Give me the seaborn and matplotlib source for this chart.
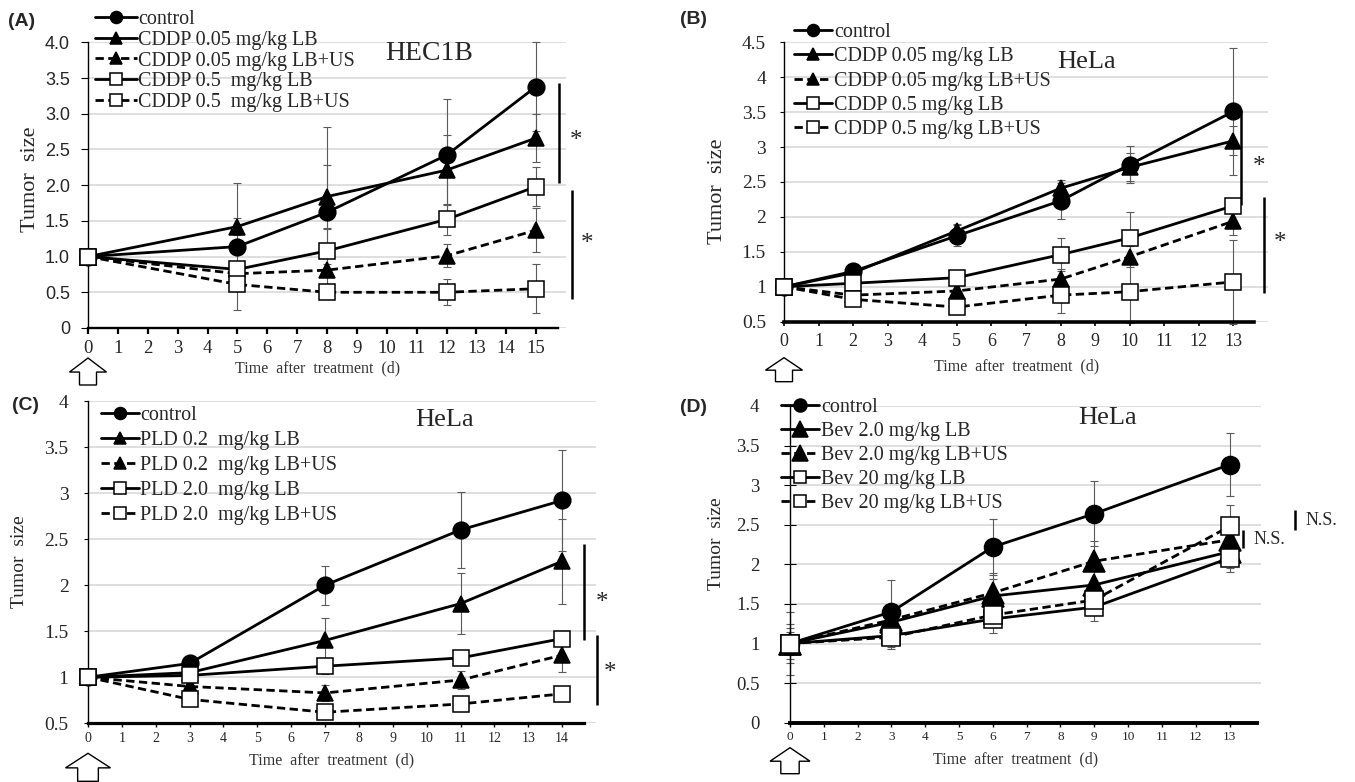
#!/usr/bin/env python3
"""
Relative tumor size after liposomal bubble (LB) / ultrasound (US) treatment, panels A-D.
"""

import matplotlib

matplotlib.use("Agg")
import matplotlib.pyplot as plt
import matplotlib.transforms as mtransforms
from matplotlib.patches import Polygon
import seaborn as sns

W, H = 1355, 782
SERIF = ["Liberation Serif", "DejaVu Serif"]
SANS = ["Liberation Sans", "DejaVu Sans"]

# ---- (A) HEC1B, CDDP ----
a_days = [0, 5, 8, 12, 15]
a_labels = ["control", "CDDP 0.05 mg/kg LB", "CDDP 0.05 mg/kg LB+US",
            "CDDP 0.5  mg/kg LB", "CDDP 0.5  mg/kg LB+US"]
a_control = [1.0, 1.14, 1.62, 2.42, 3.38]
a_control_err = [0.05, 0.89, 1.19, 0.79, 0.62]
a_low_lb = [1.0, 1.42, 1.84, 2.21, 2.66]
a_low_lb_err = [0.05, 0.12, 0.44, 0.49, 0.33]
a_low_us = [1.0, 0.76, 0.81, 1.01, 1.37]
a_low_us_err = [0.05, 0.06, 0.08, 0.16, 0.31]
a_high_lb = [1.0, 0.82, 1.08, 1.52, 1.98]
a_high_lb_err = [0.05, 0.08, 0.30, 0.22, 0.27]
a_high_us = [1.0, 0.61, 0.50, 0.50, 0.55]
a_high_us_err = [0.05, 0.04, 0.06, 0.18, 0.34]

# ---- (B) HeLa, CDDP ----
b_days = [0, 2, 5, 8, 10, 13]
b_labels = ["control", "CDDP 0.05 mg/kg LB", "CDDP 0.05 mg/kg LB+US",
            "CDDP 0.5 mg/kg LB", "CDDP 0.5 mg/kg LB+US"]
b_control = [1.0, 1.22, 1.73, 2.23, 2.75, 3.51]
b_control_err = [0.05, 0.06, 0.15, 0.26, 0.26, 0.91]
b_low_lb = [1.0, 1.20, 1.80, 2.41, 2.71, 3.09]
b_low_lb_err = [0.05, 0.05, 0.10, 0.12, 0.20, 0.21]
b_low_us = [1.0, 0.88, 0.94, 1.11, 1.43, 1.94]
b_low_us_err = [0.05, 0.12, 0.10, 0.15, 0.15, 0.20]
b_high_lb = [1.0, 1.05, 1.13, 1.46, 1.70, 2.16]
b_high_lb_err = [0.08, 0.08, 0.10, 0.24, 0.37, 0.10]
b_high_us = [1.0, 0.82, 0.71, 0.88, 0.93, 1.07]
b_high_us_err = [0.06, 0.10, 0.10, 0.25, 0.45, 0.60]

# ---- (C) HeLa, PLD ----
c_days = [0, 3, 7, 11, 14]
c_labels = ["control", "PLD 0.2  mg/kg LB", "PLD 0.2  mg/kg LB+US",
            "PLD 2.0  mg/kg LB", "PLD 2.0  mg/kg LB+US"]
c_control = [1.0, 1.15, 2.00, 2.60, 2.92]
c_control_err = [0.04, 0.04, 0.21, 0.41, 0.55]
c_low_lb = [1.0, 1.05, 1.40, 1.80, 2.26]
c_low_lb_err = [0.04, 0.04, 0.24, 0.33, 0.46]
c_low_us = [1.0, 0.90, 0.83, 0.97, 1.24]
c_low_us_err = [0.04, 0.04, 0.09, 0.10, 0.18]
c_high_lb = [1.0, 1.02, 1.12, 1.21, 1.42]
c_high_lb_err = [0.03, 0.03, 0.08, 0.08, 0.07]
c_high_us = [1.0, 0.76, 0.62, 0.71, 0.82]
c_high_us_err = [0.03, 0.03, 0.02, 0.03, 0.07]

# ---- (D) HeLa, Bevacizumab ----
d_days = [0, 3, 6, 9, 13]
d_labels = ["control", "Bev 2.0 mg/kg LB", "Bev 2.0 mg/kg LB+US",
            "Bev 20 mg/kg LB", "Bev 20 mg/kg LB+US"]
d_control = [1.0, 1.40, 2.22, 2.64, 3.26]
d_control_err = [0.40, 0.40, 0.35, 0.41, 0.40]
d_low_lb = [1.0, 1.27, 1.60, 1.74, 2.16]
d_low_lb_err = [0.25, 0.15, 0.22, 0.20, 0.20]
d_low_us = [1.0, 1.30, 1.64, 2.04, 2.31]
d_low_us_err = [0.20, 0.15, 0.25, 0.26, 0.20]
d_high_lb = [1.0, 1.10, 1.31, 1.46, 2.08]
d_high_lb_err = [0.15, 0.17, 0.18, 0.18, 0.18]
d_high_us = [1.0, 1.08, 1.36, 1.55, 2.48]
d_high_us_err = [0.10, 0.12, 0.15, 0.15, 0.27]

DASH = (0, (3, 1.6))
STYLES = [
    ("o", "-", "black"),
    ("^", "-", "black"),
    ("^", DASH, "black"),
    ("s", "-", "white"),
    ("s", DASH, "white"),
]


def px_to_fig(x, y):
    return x / W, 1 - y / H


def place_axes(ax, left, top, right, bottom):
    ax.set_position([left / W, 1 - bottom / H, (right - left) / W, (bottom - top) / H])


def draw_start_arrow(fig, ax, gap, width, height):
    x0, y0 = ax.transData.transform((0, ax.get_ylim()[0]))
    top = y0 - gap
    head = height * 0.52
    hw, sw = width / 2, width * 0.23
    verts = [
        (x0, top), (x0 + hw, top - head), (x0 + sw, top - head),
        (x0 + sw, top - height), (x0 - sw, top - height),
        (x0 - sw, top - head), (x0 - hw, top - head),
    ]
    fig.add_artist(Polygon(verts, closed=True, fill=False, edgecolor="black",
                           linewidth=1.0, transform=mtransforms.IdentityTransform()))


def draw_panel(fig, ax, days, means, errs, labels, cfg):
    place_axes(ax, *cfg["box"])
    ax.set_xlim(*cfg["xlim"])
    ax.set_ylim(*cfg["ylim"])
    ax.set_axisbelow(True)
    ax.yaxis.grid(True, color="#d6d6d6", linewidth=1.1)
    ax.xaxis.grid(False)

    ms_circle, ms_tri, ms_sq = cfg["ms"]
    for values, err, label, (marker, ls, face) in zip(means, errs, labels, STYLES):
        ms = {"o": ms_circle, "^": ms_tri, "s": ms_sq}[marker]
        ax.errorbar(days, values, yerr=err, fmt="none", ecolor="#5a5a5a",
                    elinewidth=0.8, capsize=2.6, capthick=0.8, zorder=2, clip_on=False)
        sns.lineplot(x=days, y=values, ax=ax, color="black", linewidth=cfg["lw"],
                     linestyle=ls, marker=marker, markersize=ms,
                     markerfacecolor=face, markeredgecolor="black",
                     markeredgewidth=1.1, label=label, zorder=3, clip_on=False,
                     errorbar=None)

    # axes styling
    for side in ("top", "right"):
        ax.spines[side].set_visible(False)
    ax.spines["left"].set_color("black")
    ax.spines["left"].set_linewidth(1.0)
    ax.spines["bottom"].set_color("black")
    ax.spines["bottom"].set_linewidth(cfg["bottom_lw"])
    ax.spines["bottom"].set_bounds(cfg["xlim"][0], cfg["axis_end"])

    ax.set_xticks(range(0, cfg["xmax_tick"] + 1),
                  labels=[str(d) for d in range(0, cfg["xmax_tick"] + 1)],
                  fontsize=cfg["xtick_size"], fontfamily=SERIF)
    ax.set_yticks(cfg["yticks"], labels=cfg["yticklabels"],
                  fontsize=cfg["ytick_size"], fontfamily=cfg["ytick_family"])
    ax.tick_params(axis="x", direction="out", length=cfg["xtick_len"],
                   width=cfg["xtick_w"], color="black", pad=cfg["xtick_pad"], bottom=True)
    ax.tick_params(axis="y", direction=cfg["ytick_dir"], length=cfg["ytick_len"],
                   width=0.8, color="black", pad=cfg["ytick_pad"], left=True)

    ax.set_xlabel("Time  after  treatment  (d)", fontsize=11.5, color="#333333")
    ax.xaxis.set_label_coords(*cfg["xlabel_pos"])
    ax.xaxis.label.set_va("center")
    ax.set_ylabel("Tumor  size", fontsize=cfg["ylabel_size"])
    ax.yaxis.set_label_coords(*cfg["ylabel_pos"])
    ax.yaxis.label.set_va("center")

    handles, leg_labels = ax.get_legend_handles_labels()
    leg = ax.legend(handles, leg_labels, loc="upper left",
                    bbox_to_anchor=px_to_fig(*cfg["legend_xy"]),
                    bbox_transform=fig.transFigure, frameon=False,
                    borderpad=0, borderaxespad=0, handlelength=cfg["handlelength"],
                    handletextpad=0.08, labelspacing=cfg["labelspacing"],
                    markerscale=0.72, prop={"family": SERIF, "size": 14.5})
    leg.set_zorder(5)

    # significance marks
    for x, y0, y1 in cfg["bars"]:
        ax.plot([x, x], [y0, y1], color="black", linewidth=1.8, clip_on=False,
                solid_capstyle="butt")
    for x, y, text, size in cfg["notes"]:
        ax.text(x, y, text, ha="left" if text != "*" else "center", va="center",
                fontsize=size, clip_on=False)

    fig.text(*px_to_fig(*cfg["title_xy"]), cfg["title"], ha="center", va="center",
             fontsize=cfg["title_size"], family=SERIF)
    fig.text(*px_to_fig(*cfg["letter_xy"]), cfg["letter"], ha="left", va="center",
             fontsize=14, fontweight="bold", family=SANS)

    draw_start_arrow(fig, ax, *cfg["arrow"])


def main() -> None:
    sns.set_theme(style="white")
    plt.rcParams["font.family"] = SERIF

    fig = plt.figure(figsize=(W / 100, H / 100), dpi=100)
    axes = [fig.add_axes([0, 0, 1, 1]) for _ in range(4)]

    half = [0.5, 1.0, 1.5, 2.0, 2.5, 3.0, 3.5, 4.0, 4.5]

    cfg_a = dict(
        box=(88, 42.3, 566, 328), xlim=(0, 16), ylim=(0, 4), axis_end=15.74,
        xmax_tick=15, yticks=[0] + half[:8],
        yticklabels=["0", "0.5", "1.0", "1.5", "2.0", "2.5", "3.0", "3.5", "4.0"],
        ytick_family=SANS, ytick_size=13, xtick_size=13.5,
        xtick_len=4, xtick_w=1.6, xtick_pad=4.5, ytick_dir="out", ytick_len=5, ytick_pad=8,
        bottom_lw=1.7, lw=2.0, ms=(12, 12, 12),
        xlabel_pos=(0.481, -0.143), ylabel_pos=(-0.121, 0.52), ylabel_size=16,
        legend_xy=(94.5, 10), handlelength=2.1, labelspacing=0.08,
        bars=[(15.77, 2.03, 3.43), (16.2, 0.41, 1.93)],
        notes=[(16.34, 2.62, "*", 18), (16.7, 1.18, "*", 18)],
        title="HEC1B", title_xy=(429, 53), title_size=20,
        letter="(A)", letter_xy=(8, 22), arrow=(30, 37, 27),
    )
    cfg_b = dict(
        box=(784, 42.3, 1268, 321.7), xlim=(0, 14), ylim=(0.5, 4.5), axis_end=13.6,
        xmax_tick=13, yticks=half,
        yticklabels=["0.5", "1", "1.5", "2", "2.5", "3", "3.5", "4", "4.5"],
        ytick_family=SERIF, ytick_size=14, xtick_size=13,
        xtick_len=3, xtick_w=1.2, xtick_pad=5, ytick_dir="out", ytick_len=3, ytick_pad=10,
        bottom_lw=2.6, lw=2.0, ms=(12, 12, 12),
        xlabel_pos=(0.481, -0.16), ylabel_pos=(-0.138, 0.466), ylabel_size=16,
        legend_xy=(794, 23), handlelength=1.9, labelspacing=0.26,
        bars=[(13.23, 2.17, 3.53), (13.89, 0.91, 2.29)],
        notes=[(13.73, 2.72, "*", 18), (14.35, 1.62, "*", 18)],
        title="HeLa", title_xy=(1087, 62), title_size=19,
        letter="(B)", letter_xy=(680, 20), arrow=(36, 37, 24),
    )
    cfg_c = dict(
        box=(88, 401, 596, 723.3), xlim=(0, 15), ylim=(0.5, 4), axis_end=14.65,
        xmax_tick=14, yticks=half[:8],
        yticklabels=["0.5", "1", "1.5", "2", "2.5", "3", "3.5", "4"],
        ytick_family=SERIF, ytick_size=14, xtick_size=10,
        xtick_len=3, xtick_w=1.0, xtick_pad=3, ytick_dir="out", ytick_len=3, ytick_pad=11,
        bottom_lw=2.3, lw=2.0, ms=(12, 12, 12),
        xlabel_pos=(0.48, -0.116), ylabel_pos=(-0.135, 0.5), ylabel_size=14,
        legend_xy=(100.6, 406), handlelength=1.9, labelspacing=0.29,
        bars=[(14.64, 1.40, 2.45), (15.03, 0.70, 1.46)],
        notes=[(15.17, 1.81, "*", 18), (15.41, 1.05, "*", 18)],
        title="HeLa", title_xy=(445, 420), title_size=19,
        letter="(C)", letter_xy=(12, 405), arrow=(30, 45, 28),
    )
    cfg_d = dict(
        box=(790, 406, 1261, 722.7), xlim=(0, 13.93), ylim=(0, 4), axis_end=13.8,
        xmax_tick=13, yticks=[0] + half[:8],
        yticklabels=["0", "0.5", "1", "1.5", "2", "2.5", "3", "3.5", "4"],
        ytick_family=SERIF, ytick_size=13.5, xtick_size=9.5,
        xtick_len=3, xtick_w=1.0, xtick_pad=3, ytick_dir="inout", ytick_len=8, ytick_pad=18,
        bottom_lw=2.8, lw=2.0, ms=(13, 15.5, 12.5),
        xlabel_pos=(0.478, -0.115), ylabel_pos=(-0.155, 0.566), ylabel_size=14,
        legend_xy=(781, 398), handlelength=1.9, labelspacing=0.24,
        bars=[(13.4, 2.21, 2.43), (14.94, 2.43, 2.69)],
        notes=[(13.7, 2.31, "N.S.", 13), (15.25, 2.56, "N.S.", 13)],
        title="HeLa", title_xy=(1108, 418), title_size=19,
        letter="(D)", letter_xy=(680, 408), arrow=(25, 40, 26),
    )

    draw_panel(fig, axes[0], a_days,
               [a_control, a_low_lb, a_low_us, a_high_lb, a_high_us],
               [a_control_err, a_low_lb_err, a_low_us_err, a_high_lb_err, a_high_us_err],
               a_labels, cfg_a)
    draw_panel(fig, axes[1], b_days,
               [b_control, b_low_lb, b_low_us, b_high_lb, b_high_us],
               [b_control_err, b_low_lb_err, b_low_us_err, b_high_lb_err, b_high_us_err],
               b_labels, cfg_b)
    draw_panel(fig, axes[2], c_days,
               [c_control, c_low_lb, c_low_us, c_high_lb, c_high_us],
               [c_control_err, c_low_lb_err, c_low_us_err, c_high_lb_err, c_high_us_err],
               c_labels, cfg_c)
    draw_panel(fig, axes[3], d_days,
               [d_control, d_low_lb, d_low_us, d_high_lb, d_high_us],
               [d_control_err, d_low_lb_err, d_low_us_err, d_high_lb_err, d_high_us_err],
               d_labels, cfg_d)

    fig.savefig("out.png", dpi=100, facecolor="white")


if __name__ == "__main__":
    main()
